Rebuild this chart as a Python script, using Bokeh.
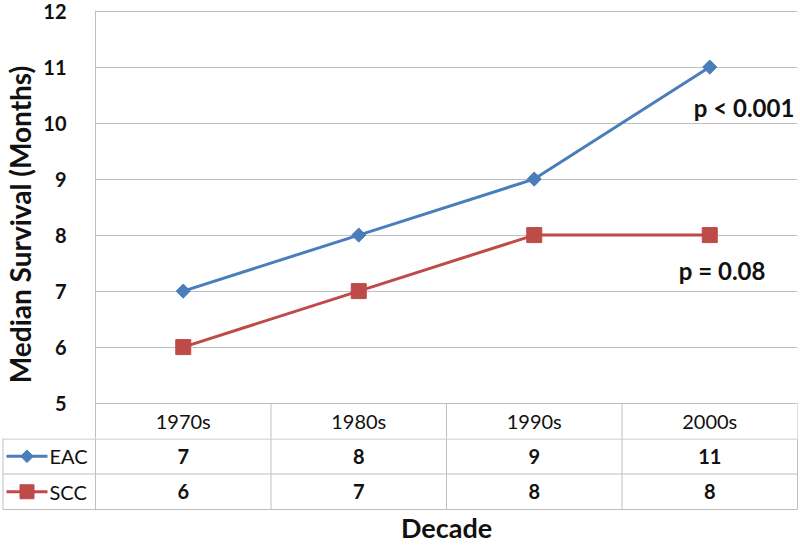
import math
from bokeh.plotting import figure
from bokeh.models import Range1d, FixedTicker
from bokeh.embed import file_html
from bokeh.resources import INLINE
from bokeh.core.properties import value

# ---- data ----
decades = ["1970s", "1980s", "1990s", "2000s"]
eac = [7, 8, 9, 11]
scc = [6, 7, 8, 8]
series_names = ["EAC", "SCC"]
y_ticks = [5, 6, 7, 8, 9, 10, 11, 12]
p_labels = ["p < 0.001", "p = 0.08"]

FONT = "Lato"
BLUE = "#4A7EBB"
RED = "#BE4B48"
GRID = "#BFBFBF"
INK = "#111111"

W = 800
LEFT_COL = 95            # px left of plot area
RIGHT_PAD = 3
TOP_PAD = 10
PLOT_H = 393             # px from 12 to 5
ROW = 35.5               # px per table row
n = len(decades)
xs = [i + 0.5 for i in range(n)]
UNIT = (W - LEFT_COL - RIGHT_PAD) / n
YUNIT = PLOT_H / (max(y_ticks) - min(y_ticks))
y_bottom = min(y_ticks) - ROW / YUNIT

# ---------------- top chart (with header row) ----------------
top_h = int(round(TOP_PAD + PLOT_H + ROW))
top = figure(width=W, height=top_h,
             x_range=Range1d(0, n), y_range=Range1d(y_bottom, max(y_ticks) + 0.01),
             output_backend="svg", toolbar_location=None,
             min_border_left=LEFT_COL, min_border_right=RIGHT_PAD,
             min_border_top=TOP_PAD, min_border_bottom=0,
             x_axis_location=None)
top.outline_line_color = None
top.xgrid.visible = False
top.ygrid.ticker = FixedTicker(ticks=y_ticks)
top.ygrid.grid_line_color = GRID
top.ygrid.grid_line_width = 1

ax = top.yaxis[0]
ax.ticker = FixedTicker(ticks=y_ticks)
ax.major_tick_line_color = None
ax.minor_tick_line_color = None
ax.axis_line_color = GRID
ax.major_label_text_font = FONT
ax.major_label_text_font_size = "20px"
ax.major_label_text_font_style = "bold"
ax.major_label_text_color = INK
ax.major_label_standoff = 23
ax.axis_label = "Median Survival (Months)"
ax.axis_label_text_font = FONT
ax.axis_label_text_font_size = "28px"
ax.axis_label_text_font_style = "bold"
ax.axis_label_text_color = INK
ax.axis_label_standoff = 3

# header-row cell borders
top.segment(x0=list(range(1, n + 1)), y0=[y_bottom] * n,
            x1=list(range(1, n + 1)), y1=[min(y_ticks)] * n,
            line_color=GRID, line_width=1)
top.text(x=xs, y=[(y_bottom + min(y_ticks)) / 2] * n, text=decades,
         text_font=value(FONT), text_font_size=value("20px"),
         text_color=INK, text_align="center", text_baseline="middle")

top.line(xs, eac, line_color=BLUE, line_width=3)
top.scatter(xs, eac, marker="square", angle=math.pi / 4, size=10,
            fill_color=BLUE, line_color=BLUE)
top.line(xs, scc, line_color=RED, line_width=3)
top.scatter(xs, scc, marker="square", size=15, fill_color=RED, line_color=RED)

top.text(x=[xs[-1]], y=[eac[-1]], text=[p_labels[0]], x_offset=-16, y_offset=40,
         text_font=value(FONT), text_font_size=value("24px"),
         text_font_style="bold", text_color=INK,
         text_align="left", text_baseline="alphabetic")
top.text(x=[xs[-1]], y=[scc[-1]], text=[p_labels[1]], x_offset=-31, y_offset=35,
         text_font=value(FONT), text_font_size=value("24px"),
         text_font_style="bold", text_color=INK,
         text_align="left", text_baseline="alphabetic")

# ---------------- data rows ----------------
bot_h = 546 - top_h
x_lo = -LEFT_COL / UNIT
x_hi = (W - LEFT_COL) / UNIT
y_lo = 2 - bot_h / ROW
bot = figure(width=W, height=bot_h,
             x_range=Range1d(x_lo, x_hi), y_range=Range1d(y_lo, 2),
             output_backend="svg", toolbar_location=None,
             min_border_left=0, min_border_right=0,
             min_border_top=0, min_border_bottom=0,
             x_axis_location=None, y_axis_location=None)
bot.outline_line_color = None
bot.grid.visible = False

left_edge = x_lo + 2.5 / UNIT
top_line = 2 - 0.5 / ROW
# vertical lines
bot.segment(x0=list(range(n + 1)), y0=[0] * (n + 1),
            x1=list(range(n + 1)), y1=[2] * (n + 1),
            line_color=GRID, line_width=1)
bot.segment(x0=[left_edge], y0=[0], x1=[left_edge], y1=[2],
            line_color=GRID, line_width=1)
# horizontal lines
bot.segment(x0=[left_edge] * 3, y0=[top_line, 1, 0], x1=[n] * 3, y1=[top_line, 1, 0],
            line_color=GRID, line_width=1)

# values
bot.text(x=xs, y=[1.5] * n, text=[str(v) for v in eac],
         text_font=value(FONT), text_font_size=value("20px"), text_font_style="bold",
         text_color=INK, text_align="center", text_baseline="middle")
bot.text(x=xs, y=[0.5] * n, text=[str(v) for v in scc],
         text_font=value(FONT), text_font_size=value("20px"), text_font_style="bold",
         text_color=INK, text_align="center", text_baseline="middle")

# legend keys
kx0 = x_lo + 6 / UNIT
kx1 = x_lo + 47 / UNIT
kxm = (kx0 + kx1) / 2
bot.segment(x0=[kx0], y0=[1.5], x1=[kx1], y1=[1.5], line_color=BLUE, line_width=3)
bot.scatter([kxm], [1.5], marker="square", angle=math.pi / 4, size=9,
            fill_color=BLUE, line_color=BLUE)
bot.segment(x0=[kx0], y0=[0.5], x1=[kx1], y1=[0.5], line_color=RED, line_width=3)
bot.scatter([kxm], [0.5], marker="square", size=14, fill_color=RED, line_color=RED)
bot.text(x=[x_lo + 49 / UNIT] * 2, y=[1.5, 0.5], text=series_names,
         text_font=value(FONT), text_font_size=value("20px"),
         text_color=INK, text_align="left", text_baseline="middle")

# x axis title
bot.text(x=[n / 2], y=[-18 / ROW], text=["Decade"],
         text_font=value(FONT), text_font_size=value("27px"), text_font_style="bold",
         text_color=INK, text_align="center", text_baseline="middle")

open("out.html", "w").write(file_html([top, bot], INLINE))
